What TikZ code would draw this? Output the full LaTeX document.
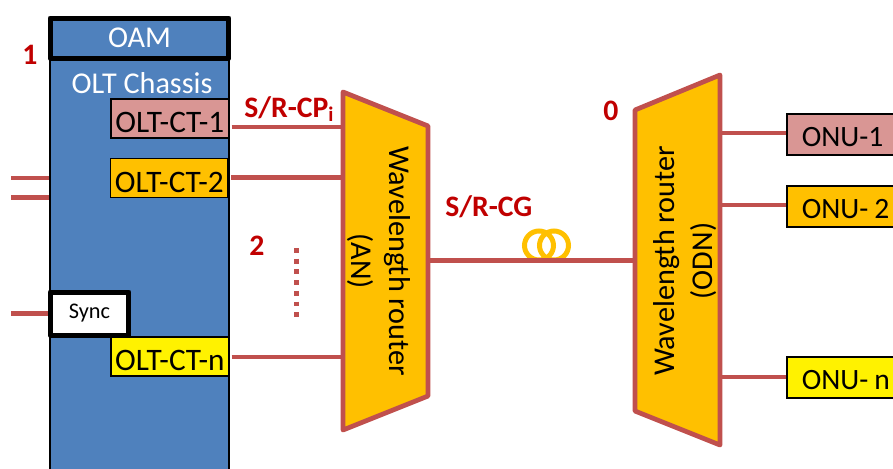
\documentclass[tikz,border=0pt]{standalone}
\usepackage{fontspec}
\setmainfont{Carlito}
\definecolor{chassisblue}{HTML}{4F81BD}
\definecolor{linkred}{HTML}{C0504D}
\definecolor{routerorange}{HTML}{FFC000}
\definecolor{cardpink}{HTML}{D99694}
\definecolor{markred}{HTML}{C00000}
\tikzset{
  bigtext/.style={font=\fontsize{17.2}{21.5}\selectfont},
  cardtext/.style={font=\fontsize{17.8}{21.5}\selectfont},
  onutext/.style={font=\fontsize{16.8}{21.5}\selectfont},
  link/.style={draw=linkred, line width=0.095cm},
  router/.style={draw=linkred, line width=0.095cm, line join=round, fill=routerorange},
  cardbox/.style={draw=black, line width=1pt, cardtext, inner sep=0pt, anchor=north west,
    text width=2.36cm, align=center, text height=0.68cm, text depth=0.10cm},
  onubox/.style={draw=black, line width=1pt, onutext, inner ysep=0pt, inner xsep=0.3cm, anchor=north west,
    text width=1.8cm, align=left, text height=0.66cm, text depth=0.16cm},
  thickbox/.style={draw=black, line width=0.1cm, line join=round},
  marktext/.style={font=\fontsize{16.9}{21.5}\selectfont\bfseries, text=markred, inner sep=0pt},
}
\begin{document}
\begin{tikzpicture}[x=0.02cm, y=-0.02cm]
  \useasboundingbox (0,0) rectangle (893,468);
  % ---------- OLT chassis ----------
  \node[draw=black, line width=1pt, fill=chassisblue, inner sep=0pt, anchor=north west,
    minimum width=3.58cm, minimum height=9.2cm] (chassis) at (49,18) {};
  \node[bigtext, text=white, inner sep=0pt] (chassistitle) at (142,83) {OLT Chassis};
  \node[thickbox, fill=chassisblue, text=white, bigtext, inner sep=0pt, minimum width=3.58cm, minimum height=0.8cm] (oam) at (139.5,38) {OAM};
  \node[cardbox, fill=cardpink] (ct1) at (110,98) {OLT-CT-1};
  \node[cardbox, fill=routerorange] (ct2) at (109.5,157.5) {OLT-CT-2};
  \node[cardbox, fill=yellow] (ctn) at (110,336) {OLT-CT-n};
  \node[thickbox, fill=white, inner sep=0pt, minimum width=1.58cm, minimum height=0.86cm,
    font=\fontsize{12.7}{14}\selectfont] (sync) at (89.5,313.5) {Sync};
  % ---------- left stubs ----------
  \coordinate (stub1) at (11,178);
  \coordinate (stub2) at (11,197.5);
  \coordinate (stub3) at (11,313.5);
  \draw[link] (stub1) -- (stub1 -| chassis.west);
  \draw[link] (stub2) -- (stub2 -| chassis.west);
  \draw[link] (stub3) -- (stub3 -| sync.west);
  % ---------- routers ----------
  \draw[router] (343,92) coordinate (antl) -- (428,126) coordinate (antr)
    -- (428,396) coordinate (anbr) -- (343,430) coordinate (anbl) -- cycle;
  \draw[router] (635,110) coordinate (odntl) -- (720,75) coordinate (odntr)
    -- (720,445) coordinate (odnbr) -- (635,411) coordinate (odnbl) -- cycle;
  \node[bigtext, rotate=-90, align=center, inner sep=0pt] (anlabel) at (379,261) {Wavelength router\\(AN)};
  \node[bigtext, rotate=90, align=center, inner sep=0pt] (odnlabel) at (685,261) {Wavelength router\\(ODN)};
  % ---------- card links ----------
  \coordinate (an1) at (343,127);
  \coordinate (an2) at (343,177.5);
  \coordinate (ann) at (343,357);
  \draw[link, shorten <=0.04cm] (an1 -| ct1.east) -- (an1);
  \draw[link, shorten <=0.04cm] (an2 -| ct2.east) -- (an2);
  \draw[link, shorten <=0.04cm] (ann -| ctn.east) -- (ann);
  \coordinate (dotstop) at (296.5,248);
  \coordinate (dotsbottom) at (296.5,318);
  \draw[draw=linkred, line width=0.1cm, dash pattern=on 0.1cm off 0.114cm] (dotstop) -- (dotsbottom);
  % ---------- feeder ----------
  \draw[routerorange, line width=0.1cm] (539,245.5) circle (14.5);
  \draw[routerorange, line width=0.1cm] (554,245.5) circle (14.5);
  \coordinate (anout) at (428,260.5);
  \coordinate (odnin) at (635,260.5);
  \draw[link] (anout) -- (odnin);
  % ---------- ONUs ----------
  \node[onubox, fill=cardpink] (onu1) at (786,113) {ONU-1};
  \node[onubox, fill=routerorange] (onu2) at (786,185) {ONU-\hspace{0.12cm}2};
  \node[onubox, fill=yellow] (onun) at (786,356) {ONU-\hspace{0.12cm}n};
  \coordinate (odn1) at (720,133);
  \coordinate (odn2) at (720,205);
  \coordinate (odnn) at (720,377);
  \draw[link] (odn1) -- (odn1 -| onu1.west);
  \draw[link] (odn2) -- (odn2 -| onu2.west);
  \draw[link] (odnn) -- (odnn -| onun.west);
  % ---------- labels ----------
  \node[marktext] (mark1) at (30,55) {1};
  \node[marktext] (mark2) at (257,246) {2};
  \node[marktext] (mark0) at (611,111) {0};
  \node[marktext, anchor=west] (srcp) at (244,109) {S/R-CP\textsubscript{i}};
  \node[marktext, anchor=west] (srcg) at (445,207) {S/R-CG};
\end{tikzpicture}
\end{document}
